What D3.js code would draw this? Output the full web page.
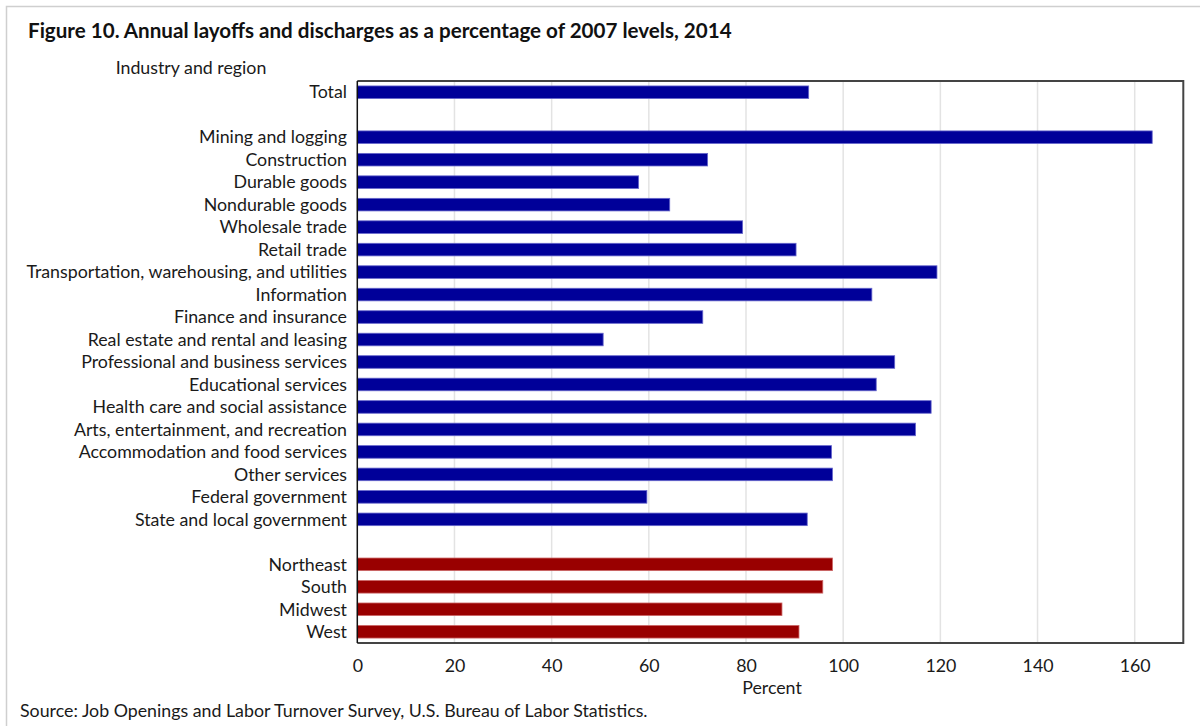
<!DOCTYPE html>
<html><head><meta charset="utf-8">
<script src="https://cdn.jsdelivr.net/npm/d3@7"></script>
<style>body{margin:0;background:#fff}svg{display:block;font-family:Lato,"Open Sans",sans-serif}</style>
</head><body><svg id="c" width="1200" height="726"></svg>
<script>
const categories = ["Total","","Mining and logging","Construction","Durable goods","Nondurable goods","Wholesale trade","Retail trade","Transportation, warehousing, and utilities","Information","Finance and insurance","Real estate and rental and leasing","Professional and business services","Educational services","Health care and social assistance","Arts, entertainment, and recreation","Accommodation and food services","Other services","Federal government","State and local government"," ","Northeast","South","Midwest","West"];
const values = [92.9,null,163.6,72.1,57.9,64.3,79.3,90.3,119.3,105.9,71.1,50.6,110.6,106.8,118.1,114.9,97.6,97.8,59.6,92.6,null,97.8,95.8,87.4,90.9];
const groups = ["i","","i","i","i","i","i","i","i","i","i","i","i","i","i","i","i","i","i","i","","r","r","r","r"];
const xTicks = [0,20,40,60,80,100,120,140,160];
const title = "Figure 10. Annual layoffs and discharges as a percentage of 2007 levels, 2014";
const source = "Source: Job Openings and Labor Turnover Survey, U.S. Bureau of Labor Statistics.";

const svg = d3.select("#c");
const L=357.3, R=1183.3, T=81, B=643;
const x = d3.scaleLinear().domain([0,170]).range([L,R]);
const y = d3.scaleBand().domain(categories.map((c,i)=>i)).range([T,B]).paddingInner(0.44).paddingOuter(0.22);
const color = {i:"#000099", r:"#990000"};
const stroke = {i:"#6666cc", r:"#cc6666"};
const FS = 17.8;

// outer border
svg.append("rect").attr("x",6.5).attr("y",6.5).attr("width",1300).attr("height",1300).attr("fill","none").attr("stroke","#cfcfcf").attr("stroke-width",1.5);

svg.append("text").attr("x",28).attr("y",38).attr("font-size",20.6).attr("font-weight","bold").attr("fill","#111").text(title);
svg.append("text").attr("x",191).attr("y",74).attr("font-size",FS).attr("text-anchor","middle").attr("fill","#1a1a1a").text("Industry and region");

// grid
svg.append("g").selectAll("line").data(xTicks.slice(1)).join("line")
  .attr("x1",d=>x(d)).attr("x2",d=>x(d)).attr("y1",T).attr("y2",B)
  .attr("stroke","#e3e3e3").attr("stroke-width",1.5);

// bars
svg.append("g").selectAll("rect").data(values.map((v,i)=>({v,i})).filter(d=>d.v!==null)).join("rect")
  .attr("x",x(0)).attr("y",d=>y(d.i)).attr("width",d=>x(d.v)-x(0)).attr("height",y.bandwidth())
  .attr("fill",d=>color[groups[d.i]]).attr("stroke",d=>stroke[groups[d.i]]).attr("stroke-width",0.8);

// frame
svg.append("path").attr("d",`M${L},${T}H${R}V${B}H${L}`).attr("fill","none").attr("stroke","#444").attr("stroke-width",2);
svg.append("line").attr("x1",L).attr("x2",L).attr("y1",T).attr("y2",B).attr("stroke","#111").attr("stroke-width",1.5);

// category labels
const lab = svg.append("g").attr("font-size",FS).attr("fill","#1a1a1a").attr("text-anchor","end");
categories.forEach((c,i)=>{ if(c.trim()) lab.append("text").attr("x",347).attr("y",y(i)+y.bandwidth()/2).attr("dy","0.35em").text(c); });

// x axis
const ax = svg.append("g").attr("transform",`translate(0,${B})`).call(d3.axisBottom(x).tickValues(xTicks).tickSize(0).tickPadding(16));
ax.select(".domain").remove();
ax.selectAll("text").attr("font-size",FS).attr("fill","#1a1a1a").attr("font-family","Lato,sans-serif");
svg.append("text").attr("x",772).attr("y",694).attr("font-size",FS).attr("text-anchor","middle").attr("fill","#1a1a1a").text("Percent");
svg.append("text").attr("x",20).attr("y",717).attr("font-size",FS).attr("fill","#1a1a1a").text(source);
</script></body></html>
